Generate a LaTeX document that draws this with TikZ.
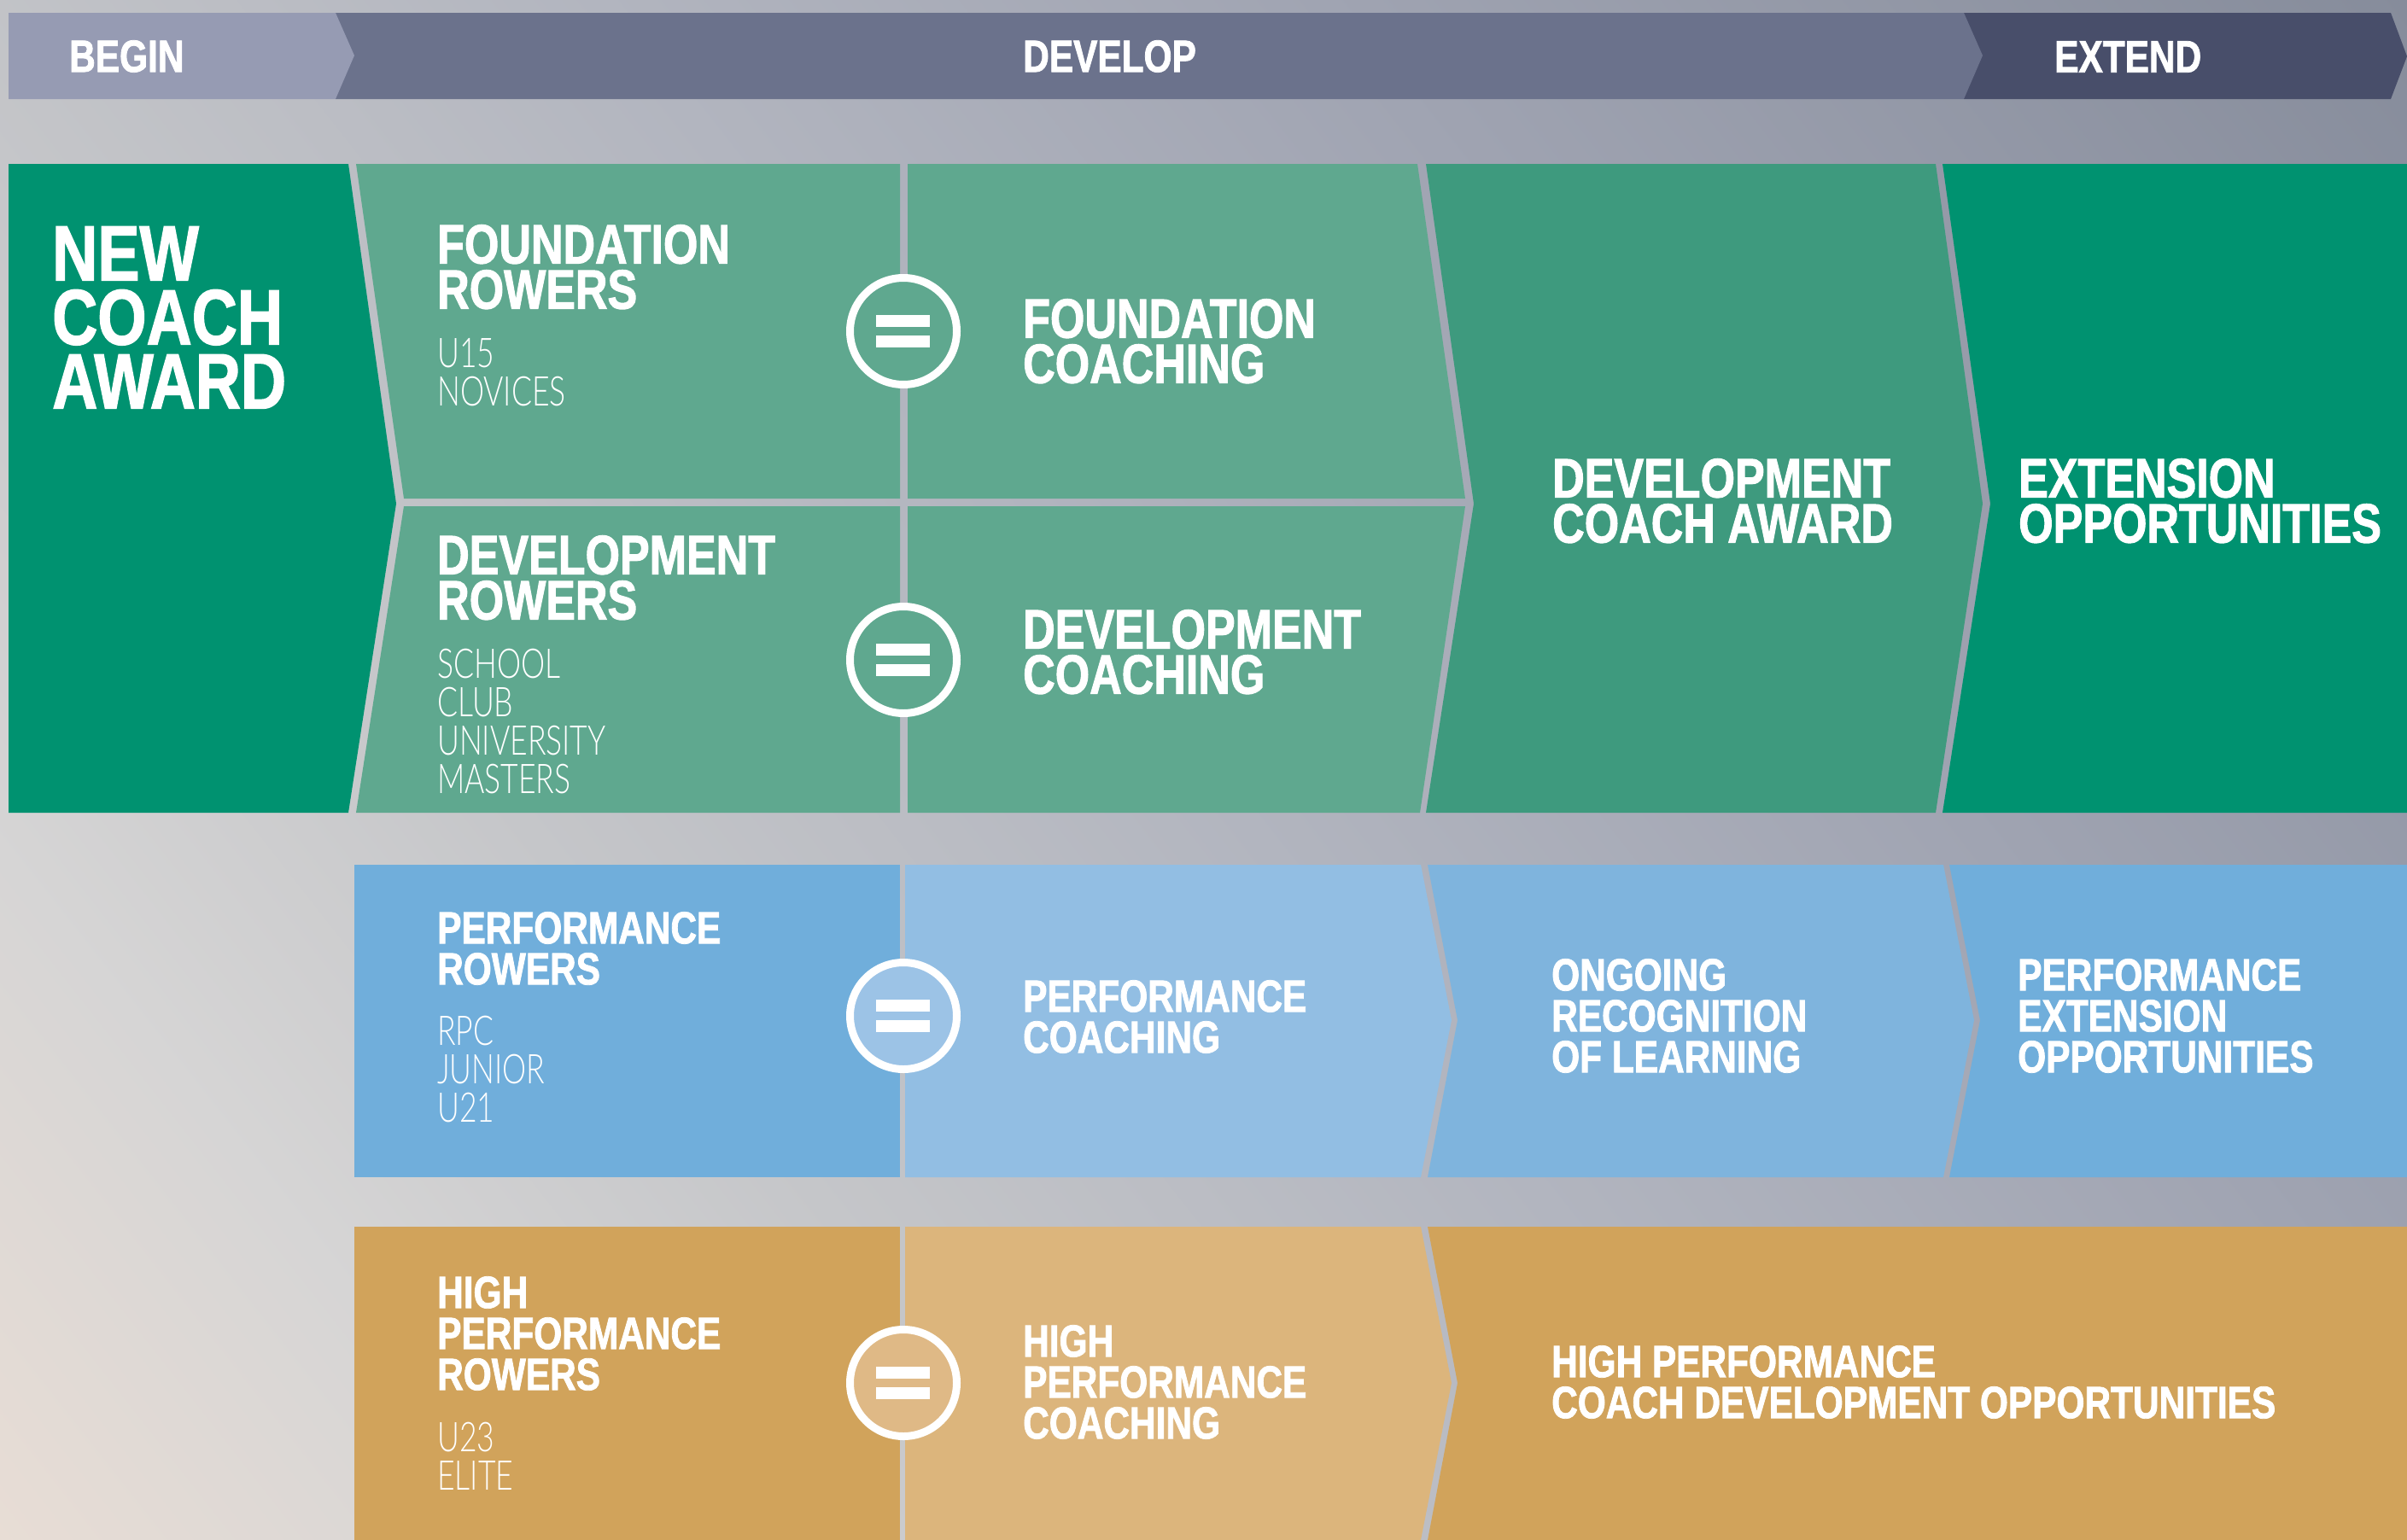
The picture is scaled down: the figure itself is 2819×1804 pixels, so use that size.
\documentclass[tikz,border=0pt]{standalone}
\usepackage{fontspec}
\newfontfamily\headfont{Liberation Sans Bold}[FakeStretch=0.80,FakeBold=1.5]
\newfontfamily\subfont{Lato Light}[FakeStretch=0.74]
\definecolor{bgA}{HTML}{E8DDD5}
\definecolor{bgB}{HTML}{D6D5D5}
\definecolor{bgC}{HTML}{C5C6C9}
\definecolor{bgD}{HTML}{B2B5BF}
\definecolor{bgE}{HTML}{A0A4B2}
\definecolor{bgF}{HTML}{868C9B}
\definecolor{beginC}{HTML}{969BB3}
\definecolor{developC}{HTML}{6B728C}
\definecolor{extendC}{HTML}{484E6A}
\definecolor{greenA}{HTML}{009270}
\definecolor{greenB}{HTML}{5FA88F}
\definecolor{greenC}{HTML}{3E9A7E}
\definecolor{blueA}{HTML}{70AEDB}
\definecolor{blueB}{HTML}{92BEE3}
\definecolor{blueC}{HTML}{7FB4DD}
\definecolor{blueD}{HTML}{9CC3E6}
\definecolor{orangeA}{HTML}{D1A35B}
\definecolor{orangeB}{HTML}{DCB57C}
\definecolor{orangeC}{HTML}{DFB986}
\pgfdeclareverticalshading{bgshade}{100bp}{color(0bp)=(bgA); color(14.9bp)=(bgA); color(25.4bp)=(bgB); color(36bp)=(bgC); color(50bp)=(bgD); color(64bp)=(bgE); color(85.1bp)=(bgF); color(100bp)=(bgF)}
\tikzset{
  txt/.style={text=white,inner sep=0pt,anchor=north west,align=left},
  bighead/.style={txt,font=\headfont\fontsize{92}{75}\selectfont\lineskiplimit-100pt},
  midhead/.style={txt,font=\headfont\fontsize{65}{53}\selectfont\lineskiplimit-100pt},
  smallhead/.style={txt,font=\headfont\fontsize{53}{48}\selectfont\lineskiplimit-100pt},
  subhead/.style={txt,font=\subfont\fontsize{48}{45}\selectfont\lineskiplimit-100pt},
  eqcirc/.style={circle,draw=white,line width=9pt,minimum size=125pt,inner sep=0pt},
}
\begin{document}
\begin{tikzpicture}[x=1pt,y=-1pt]
\useasboundingbox (0,0) rectangle (2819,1804);
\shade[shading=bgshade,shading angle=-51.8] (0,0) rectangle (2819,1804);
% top band
\fill[extendC] (2300,15) -- (2800,15) -- (2819,66) -- (2800,116) -- (2300,116) -- cycle;
\fill[developC] (393,15) -- (2300,15) -- (2322,65) -- (2300,116) -- (393,116) -- cycle;
\fill[beginC] (10,15) -- (393,15) -- (415,65) -- (393,116) -- (10,116) -- cycle;
\node[smallhead] (begin) at (81,47) {BEGIN};
\node[smallhead] (develop) at (1198,47) {DEVELOP};
\node[smallhead] (extend) at (2406,48) {EXTEND};
% green block
\fill[greenA] (10,192) -- (408,192) -- (464,590) -- (408,952) -- (10,952) -- cycle;
\fill[greenB] (417,192) -- (1054,192) -- (1054,584) -- (473,584) -- cycle;
\fill[greenB] (473,593) -- (1054,593) -- (1054,952) -- (417,952) -- cycle;
\fill[greenB] (1063,192) -- (1660,192) -- (1716,584) -- (1063,584) -- cycle;
\fill[greenB] (1063,593) -- (1716,593) -- (1663,952) -- (1063,952) -- cycle;
\fill[greenC] (1670,192) -- (2267,192) -- (2322,590) -- (2267,952) -- (1670,952) -- (1726,590) -- cycle;
\fill[greenA] (2275,192) -- (2819,192) -- (2819,952) -- (2275,952) -- (2331,590) -- cycle;
\node[bighead] (newcoach) at (61,265) {NEW\\COACH\\AWARD};
\node[midhead] (foundrow) at (512,263) {FOUNDATION\\ROWERS};
\node[subhead] (foundsub) at (512,396) {U15\\NOVICES};
\node[midhead] (devrow) at (512,627) {DEVELOPMENT\\ROWERS};
\node[subhead] (devsub) at (512,760) {SCHOOL\\CLUB\\UNIVERSITY\\MASTERS};
\node[midhead] (foundcoach) at (1198,350) {FOUNDATION\\COACHING};
\node[midhead] (devcoach) at (1198,714) {DEVELOPMENT\\COACHING};
\node[midhead] (devaward) at (1818,537) {DEVELOPMENT\\COACH AWARD};
\node[midhead] (extopp) at (2364,537) {EXTENSION\\OPPORTUNITIES};
% blue block
\fill[blueA] (415,1013) -- (1054,1013) -- (1054,1379) -- (415,1379) -- cycle;
\fill[blueB] (1060,1013) -- (1664,1013) -- (1700,1195) -- (1664,1379) -- (1060,1379) -- cycle;
\fill[blueC] (1672,1013) -- (2276,1013) -- (2312,1195) -- (2276,1379) -- (1672,1379) -- (1707,1195) -- cycle;
\fill[blueA] (2283,1013) -- (2819,1013) -- (2819,1379) -- (2283,1379) -- (2319,1195) -- cycle;
\node[smallhead] (perfrow) at (512,1068) {PERFORMANCE\\ROWERS};
\node[subhead] (perfsub) at (512,1190) {RPC\\JUNIOR\\U21};
\node[smallhead] (perfcoach) at (1198,1148) {PERFORMANCE\\COACHING};
\node[smallhead] (ongoing) at (1817,1123) {ONGOING\\RECOGNITION\\OF LEARNING};
\node[smallhead] (perfext) at (2363,1123) {PERFORMANCE\\EXTENSION\\OPPORTUNITIES};
% orange block
\fill[orangeA] (415,1437) -- (1054,1437) -- (1054,1804) -- (415,1804) -- cycle;
\fill[orangeB] (1060,1437) -- (1664,1437) -- (1700,1620) -- (1664,1804) -- (1060,1804) -- cycle;
\fill[orangeA] (1672,1437) -- (2819,1437) -- (2819,1804) -- (1672,1804) -- (1707,1620) -- cycle;
\node[smallhead] (highrow) at (512,1495) {HIGH\\PERFORMANCE\\ROWERS};
\node[subhead] (highsub) at (512,1666) {U23\\ELITE};
\node[smallhead] (highcoach) at (1198,1552) {HIGH\\PERFORMANCE\\COACHING};
\node[smallhead] (highdev) at (1817,1576) {HIGH PERFORMANCE\\COACH DEVELOPMENT OPPORTUNITIES};
% equals signs
\foreach \nm/\ypos/\col in {eqfound/388/greenB,eqdev/773/greenB,eqperf/1190/blueD,eqhigh/1620/orangeC} {
  \node[eqcirc,fill=\col] (\nm) at (1058,\ypos) {};
  \fill[white] ([shift={(-32,-19)}]\nm.center) rectangle +(63,14);
  \fill[white] ([shift={(-32,5)}]\nm.center) rectangle +(63,14);
}
\end{tikzpicture}
\end{document}
